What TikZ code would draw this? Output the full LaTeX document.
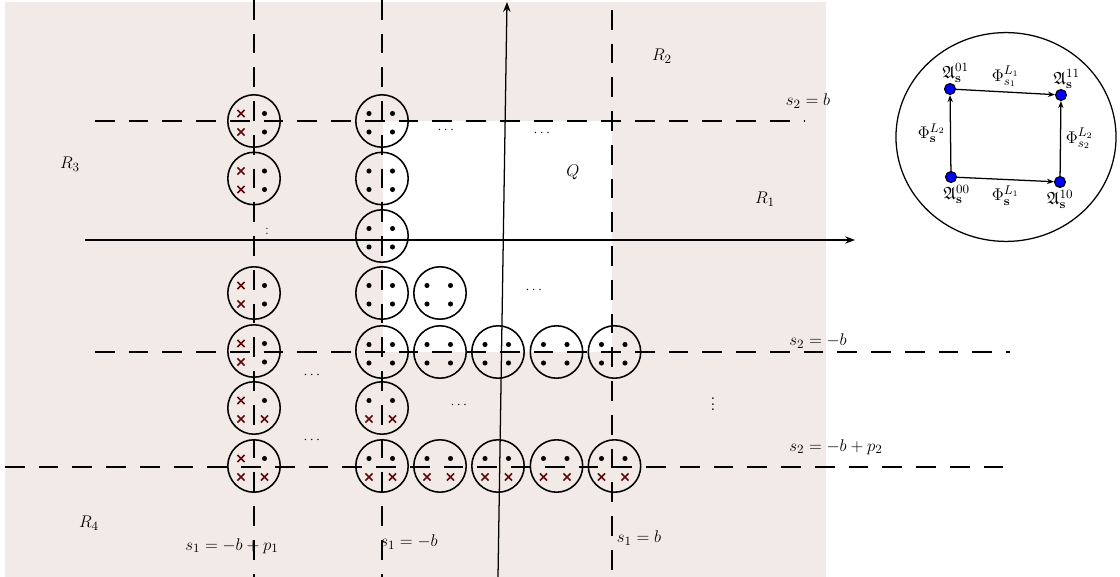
\documentclass[tikz,border=0pt]{standalone}
\usepackage{amsmath,amssymb}
\usepackage{tikz}
\usetikzlibrary{arrows.meta,positioning,shapes.misc,shapes.geometric}
\usepackage{xcolor}

\definecolor{regionbg}{RGB}{242,234,230}
\definecolor{xred}{RGB}{95,10,10}

% one site: name, position, marks TL TR BL BR
\newcommand{\site}[6]{%
  \node[site] (#1) at (#2) {};
  \node[#3] at ([shift={(-13,-7.5)}]#1) {};
  \node[#4] at ([shift={(10.5,-7.5)}]#1) {};
  \node[#5] at ([shift={(-13,11)}]#1) {};
  \node[#6] at ([shift={(10.5,11)}]#1) {};
}

\begin{document}
\begin{tikzpicture}[
  x=0.025cm, y=-0.025cm,
  >=Stealth,
  every node/.style={font=\fontsize{12.6}{15}\selectfont},
  site/.style={circle, draw, line width=1.1pt, minimum size=1.31cm, inner sep=0},
  pt/.style={circle, fill, inner sep=0, minimum size=3.6pt},
  xx/.style={cross out, draw=xred, line width=1.2pt, inner sep=0, minimum size=3.8pt},
  cut/.style={dash pattern=on 14pt off 10pt, line width=1.1pt},
  axisarrow/.style={-{Stealth[length=7pt]}, line width=0.9pt},
  vtx/.style={circle, draw, fill=blue, inner sep=0, minimum size=7.8pt, line width=0.8pt},
  map/.style={-{Stealth[length=5pt]}, line width=0.9pt}
]
\useasboundingbox (0,0) rectangle (1120,577);

% regions
\fill[regionbg] (5,2) rectangle (826,577);
\fill[white] (383,121) rectangle (612,352);

% boundary lines
\coordinate (p1top) at (254,0);   \coordinate (p1bot) at (254,577);
\coordinate (mbtop) at (382,0);   \coordinate (mbbot) at (382,577);
\coordinate (pbtop) at (612,10);  \coordinate (pbbot) at (612,577);
\coordinate (pbl) at (95,121);    \coordinate (pbr) at (805,121);
\coordinate (mbl) at (95,352);    \coordinate (mbr) at (1010,352);
\coordinate (p2l) at (5,467);     \coordinate (p2r) at (1005,467);
\draw[cut] (p1top) -- (p1bot);
\draw[cut] (mbtop) -- (mbbot);
\draw[cut] (pbtop) -- (pbbot);
\draw[cut] (pbl) -- (pbr);
\draw[cut] (mbl) -- (mbr);
\draw[cut] (p2l) -- (p2r);

% axes
\coordinate (h0) at (85,240);  \coordinate (h1) at (855,240);
\coordinate (v0) at (498,577); \coordinate (v1) at (507,2);
\draw[axisarrow] (h0) -- (h1);
\draw[axisarrow] (v0) -- (v1);

% sites
\foreach \y [count=\i] in {121,178.5,293,351}{
  \site{a\i}{254,\y}{xx}{pt}{xx}{pt}
}
\foreach \y [count=\i from 5] in {408,466}{
  \site{a\i}{254,\y}{xx}{pt}{xx}{xx}
}
\foreach \y [count=\i] in {121,178.5,236,293,352}{
  \site{b\i}{382,\y}{pt}{pt}{pt}{pt}
}
\foreach \y [count=\i from 6] in {408,466}{
  \site{b\i}{382,\y}{pt}{pt}{xx}{xx}
}
\foreach \x [count=\i from 2] in {440,498,556.5,614.5}{
  \site{c\i}{\x,352}{pt}{pt}{pt}{pt}
  \site{d\i}{\x,466}{pt}{pt}{xx}{xx}
}
\site{e2}{440,293}{pt}{pt}{pt}{pt}

% dots
\node[font=\normalsize] (dd1) at (447,130) {$\cdots$};
\node[font=\normalsize] (dd2) at (543,133) {$\cdots$};
\node[font=\normalsize] (dd3) at (535,290) {$\cdots$};
\node[font=\normalsize] (dd4) at (313,375) {$\cdots$};
\node[font=\normalsize] (dd5) at (460,405) {$\cdots$};
\node[font=\normalsize] (dd6) at (313,440) {$\cdots$};
\node[font=\footnotesize] (vd1) at (267,230) {$\vdots$};
\node (vd2) at (713,400) {$\vdots$};

% labels
\node (lR1) at (765,199) {$R_1$};
\node (lR2) at (662,56) {$R_2$};
\node (lR3) at (70,164) {$R_3$};
\node (lR4) at (89,523) {$R_4$};
\node (lQ) at (573,172) {$Q$};
\node (ls2b) at (808,101) {$s_2=b$};
\node (ls2mb) at (818,341) {$s_2=-b$};
\node (ls2p) at (836,447) {$s_2=-b+p_2$};
\node (ls1p) at (232,546) {$s_1=-b+p_1$};
\node (ls1mb) at (409,542) {$s_1=-b$};
\node (ls1b) at (639,538) {$s_1=b$};

% square of states
\node[ellipse, draw, line width=0.9pt, minimum width=5.5cm, minimum height=5.22cm, inner sep=0] (frame) at (1006,137) {};
\node[vtx] (a01) at (950,89) {};
\node[vtx] (a11) at (1061,95) {};
\node[vtx] (a00) at (951,177) {};
\node[vtx] (a10) at (1060,182) {};
\node[above=-3pt of a01, xshift=4pt] (l01) {$\mathfrak{A}^{01}_{\mathbf{s}}$};
\node[above=-3pt of a11, xshift=4pt] (l11) {$\mathfrak{A}^{11}_{\mathbf{s}}$};
\node[below=-2pt of a00, xshift=4pt] (l00) {$\mathfrak{A}^{00}_{\mathbf{s}}$};
\node[below=-2pt of a10] (l10) {$\mathfrak{A}^{10}_{\mathbf{s}}$};
\draw[map] (a01) -- node[above] {$\Phi^{L_1}_{s_1}$} (a11);
\draw[map] (a00) -- node[below=1pt] {$\Phi^{L_1}_{\mathbf{s}}$} (a10);
\draw[map] (a00) -- node[left] {$\Phi^{L_2}_{\mathbf{s}}$} (a01);
\draw[map] (a10) -- node[right] {$\Phi^{L_2}_{s_2}$} (a11);
\end{tikzpicture}
\end{document}
